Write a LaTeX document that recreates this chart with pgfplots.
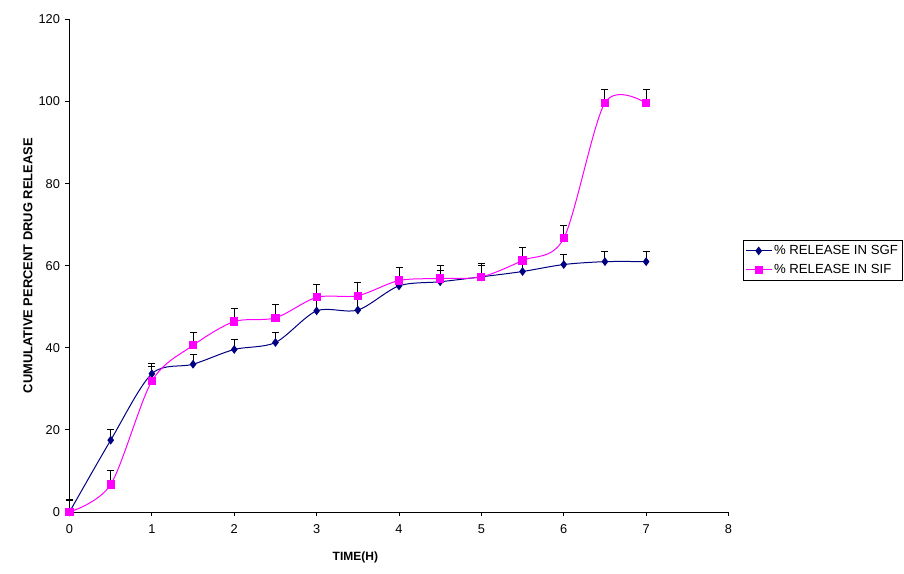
\documentclass[border=0pt]{standalone}
\usepackage{pgfplots}
\pgfplotsset{compat=1.18}
\usepackage{fontspec}
\setmainfont{Liberation Sans}
\definecolor{sgf}{HTML}{000080}
\definecolor{sif}{HTML}{FF00FF}
\begin{document}
\begin{tikzpicture}
\useasboundingbox (-69.5pt,-61pt) rectangle (834.5pt,512pt);
\begin{axis}[
  at={(0pt,0pt)}, anchor=origin,
  scale only axis, width=659pt, height=492.5pt,
  xmin=0, xmax=8, ymin=0, ymax=120,
  axis x line=bottom, axis y line=left,
  axis line style={-, black, line width=1pt},
  xtick={0,1,...,8}, ytick={0,20,...,120},
  tick align=outside, major tick length=4pt,
  tick style={black, line width=1pt},
  /pgf/number format/assume math mode=true,
  tick label style={font=\fontsize{12.8}{14}\selectfont},
  xticklabel style={yshift=-5pt},
  yticklabel style={xshift=-2pt},
  legend style={at={(1.022,0.552)}, anchor=north west, draw=black, line width=0.8pt,
    font=\fontsize{13.2}{15}\selectfont, row sep=4pt, inner xsep=2pt, inner ysep=3pt,
    cells={anchor=west}},
  legend cell align=left,
  legend image code/.code={
    \draw[mark repeat=2,mark phase=2] plot coordinates {(0cm,0cm) (0.45cm,0cm) (0.9cm,0cm)};},
  clip=false,
]
\addplot[sgf, line width=1pt, smooth, tension=0.5, mark=diamond*, mark size=3.6pt,
  mark options={fill=sgf, draw=sgf},
  error bars/.cd, y dir=plus, y explicit,
  error bar style={black, line width=1pt},
  error mark options={black, rotate=90, mark size=3.5pt, line width=1pt}]
  coordinates {
  (0,0) +- (0,3.1)
  (0.5,17.5) +- (0,2.6)
  (1,33.7) +- (0,2.5)
  (1.5,36.0) +- (0,2.4)
  (2,39.6) +- (0,2.5)
  (2.5,41.3) +- (0,2.5)
  (3,49.0) +- (0,2.5)
  (3.5,49.2) +- (0,2.6)
  (4,55.1) +- (0,2.4)
  (4.5,56.1) +- (0,2.7)
  (5,57.3) +- (0,2.7)
  (5.5,58.6) +- (0,2.5)
  (6,60.3) +- (0,2.4)
  (6.5,61.0) +- (0,2.5)
  (7,61.0) +- (0,2.5)
  };
\addlegendentry{\% RELEASE IN SGF}
\addplot[sif, line width=1pt, smooth, tension=0.5, mark=square*, mark size=3.6pt,
  mark options={fill=sif, draw=sif},
  error bars/.cd, y dir=plus, y explicit,
  error bar style={black, line width=1pt},
  error mark options={black, rotate=90, mark size=3.5pt, line width=1pt}]
  coordinates {
  (0,0) +- (0,2.7)
  (0.5,6.7) +- (0,3.3)
  (1,31.9) +- (0,3.5)
  (1.5,40.6) +- (0,3.2)
  (2,46.4) +- (0,3.2)
  (2.5,47.3) +- (0,3.3)
  (3,52.3) +- (0,3.2)
  (3.5,52.7) +- (0,3.2)
  (4,56.4) +- (0,3.2)
  (4.5,56.9) +- (0,3.2)
  (5,57.3) +- (0,3.3)
  (5.5,61.3) +- (0,3.2)
  (6,66.7) +- (0,3.2)
  (6.5,99.7) +- (0,3.2)
  (7,99.6) +- (0,3.3)
  };
\addlegendentry{\% RELEASE IN SIF}
\node[font=\bfseries\fontsize{12}{14}\selectfont] at (axis cs:3.47,0) [yshift=-45pt] {TIME(H)};
\node[font=\bfseries\fontsize{12.9}{14}\selectfont, rotate=90] at ([xshift=-41.5pt]axis cs:0,60) {CUMULATIVE PERCENT DRUG RELEASE};
\end{axis}
\end{tikzpicture}
\end{document}
